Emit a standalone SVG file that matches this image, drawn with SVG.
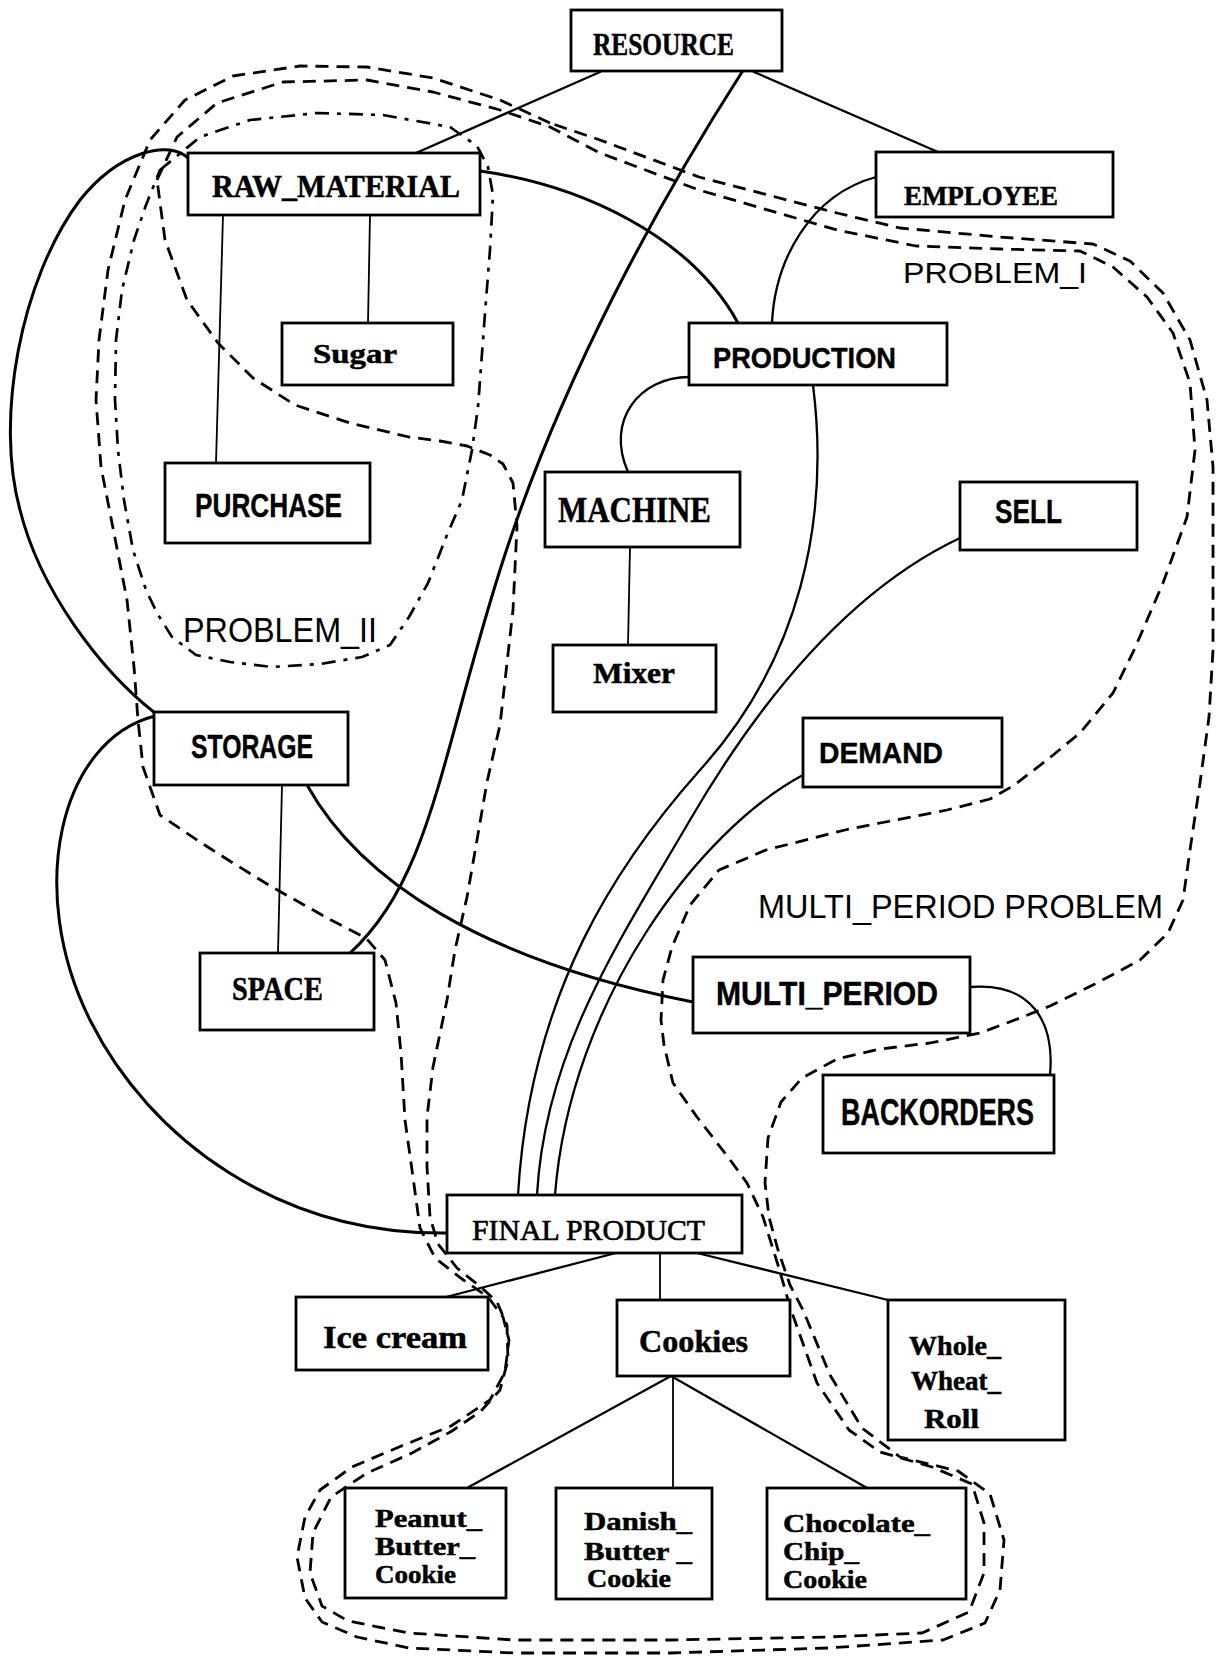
<svg xmlns="http://www.w3.org/2000/svg" width="1219" height="1661" viewBox="0 0 1219 1661">
<style>
.box{fill:#fff;stroke:#000;stroke-width:2.8}
.ln{fill:none;stroke:#000;stroke-width:2.3;stroke-linecap:round}
.thin{fill:none;stroke:#000;stroke-width:1.8}
.cv{fill:none;stroke:#000;stroke-width:3;stroke-linecap:round}
.dash{fill:none;stroke:#000;stroke-width:2.8;stroke-dasharray:13 8;stroke-linejoin:round}
.dash2{fill:none;stroke:#000;stroke-width:2.7;stroke-dasharray:14 8 4 8;stroke-linejoin:round}
.sb{font-family:"Liberation Serif","Times New Roman",serif;font-weight:bold;fill:#000;stroke:#000;stroke-width:0.5}
.sr{font-family:"Liberation Serif","Times New Roman",serif;font-weight:normal;fill:#000;stroke:#000;stroke-width:0.7}
.blk{font-family:"Liberation Sans",Arial,sans-serif;font-weight:bold;fill:#000;stroke:#000;stroke-width:0.4}
.lab{font-family:"Liberation Sans",Arial,sans-serif;font-weight:normal;fill:#000}
</style>
<rect x="0" y="0" width="1219" height="1661" fill="#fff"/>

<g id="regions">
<path id="region-outer" class="dash" d="M550,123 L500,100 L433,78 L367,67 L300,66 L233,76 L185,100 L150,140 L125,200 L108,270 L99,340 L96,400 L101,467 L114,533 L127,600 L134,667 L138,720 L143,767 L160,815 L200,842 L233,863 L272,887 L331,920 L366,938 L385,960 L396,1003 L401,1053 L405,1120 L412,1170 L420,1228 L435,1258 L462,1279 L488,1297 L503,1317 L509,1340 L505,1372 L490,1400 L451,1426 L399,1447 L352,1467 L320,1490 L305,1517 L297,1557 L305,1598 L322,1622 L357,1637 L409,1648 L514,1653 L671,1653 L828,1648 L943,1640 L985,1623 L1000,1590 L1004,1540 L990,1494 L958,1471 L900,1457 L862,1428 L830,1375 L803,1310 L790,1285 L778,1250 L769,1217 L765,1183 L768,1138 L781,1102 L802,1078 L837,1059 L880,1049 L930,1043 L980,1033 L1020,1018 L1050,1006 L1097,983 L1140,960 L1168,933 L1183,900 L1190,850 L1200,783 L1209,717 L1213,650 L1213,467 L1207,400 L1190,340 L1163,293 L1130,261 L1093,244 L1000,237 L900,228 L837,213 L699,177 L600,140 Z"/>
<path id="region-inner" class="dash" d="M157,180 L177,137 L217,103 L283,82 L367,80 L433,92 L500,110 L550,127 L600,153 L699,190 L837,230 L916,246 L1000,249 L1080,251 L1113,267 L1147,297 L1173,333 L1190,383 L1195,450 L1187,517 L1163,583 L1135,648 L1113,693 L1080,733 L1047,760 L1013,786 L990,799 L947,810 L880,823 L845,830 L766,850 L719,870 L690,905 L672,947 L663,980 L661,1020 L664,1045 L673,1083 L697,1117 L728,1157 L747,1183 L763,1217 L778,1265 L790,1307 L817,1383 L849,1430 L880,1452 L932,1467 L972,1484 L984,1523 L984,1573 L969,1612 L922,1633 L828,1637 L671,1640 L514,1640 L409,1633 L348,1621 L322,1606 L310,1573 L313,1533 L331,1497 L367,1473 L412,1453 L452,1431 L481,1411 L500,1390 L508,1360 L507,1325 L497,1302 L482,1288 L457,1268 L438,1244 L430,1217 L427,1167 L427,1117 L433,1067 L447,1000 L455,950 L467,897 L477,840 L487,782 L500,725 L513,610 L517,526 L513,483 L503,464 L490,455 L467,446 L440,441 L409,437 L350,423 L295,405 L253,378 L218,343 L187,300 L165,240 Z"/>
<path id="region-problem2" class="dash2" d="M160,170 L200,137 L250,120 L317,113 L383,115 L450,127 L477,146 L488,167 L493,195 L490,250 L486,300 L478,407 L472,450 L462,500 L447,535 L428,583 L409,617 L390,645 L362,657 L320,664 L272,667 L230,662 L196,655 L172,637 L157,613 L146,590 L133,550 L124,500 L118,450 L115,400 L116,340 L122,290 L134,240 L146,205 Z"/>
<text class="lab" x="903" y="283" font-size="30" textLength="184" lengthAdjust="spacingAndGlyphs">PROBLEM_I</text>
<text class="lab" x="183" y="642" font-size="35" textLength="194" lengthAdjust="spacingAndGlyphs">PROBLEM_II</text>
<text class="lab" x="758" y="918" font-size="34" textLength="405" lengthAdjust="spacingAndGlyphs">MULTI_PERIOD PROBLEM</text>
</g>

<g id="connectors">
<line class="ln" x1="600" y1="72" x2="416" y2="153"/>
<line class="ln" x1="754" y1="72" x2="938" y2="152"/>
<path class="cv" d="M742,72 C660,200 560,380 500,570 S430,880 350,953"/>
<path class="cv" d="M480,171 C580,185 690,235 738,323"/>
<path class="ln" d="M876,177 C810,195 775,260 772,323"/>
<line class="thin" x1="223" y1="215" x2="216" y2="463"/>
<line class="thin" x1="370" y1="215" x2="368" y2="323"/>
<path class="cv" d="M188,158 C170,140 120,150 80,200 C20,280 -5,420 20,510 C40,590 100,670 155,713"/>
<path class="ln" d="M689,377 C640,377 605,420 628,472"/>
<line class="thin" x1="630" y1="547" x2="628" y2="645"/>
<path class="ln" d="M813,385 C830,520 800,660 700,770 C620,860 530,990 518,1195"/>
<path class="ln" d="M960,538 C850,590 760,700 690,820 C620,940 545,1050 537,1195"/>
<path class="ln" d="M803,775 C700,830 570,1000 555,1195"/>
<path class="cv" d="M155,716 C60,740 25,890 90,1020 C150,1140 280,1235 447,1233"/>
<line class="thin" x1="282" y1="785" x2="278" y2="953"/>
<path class="cv" d="M307,785 C360,880 480,960 693,1002"/>
<path class="ln" d="M970,987 C1030,982 1055,1020 1050,1075"/>
<line class="ln" x1="616" y1="1253" x2="446" y2="1297"/>
<line class="thin" x1="660" y1="1253" x2="660" y2="1300"/>
<line class="ln" x1="697" y1="1253" x2="888" y2="1300"/>
<line class="ln" x1="671" y1="1376" x2="467" y2="1488"/>
<line class="thin" x1="673" y1="1376" x2="673" y2="1488"/>
<line class="ln" x1="671" y1="1376" x2="867" y2="1488"/>
</g>

<g id="resource"><rect class="box" x="571" y="10" width="211" height="61"/><text class="sb" x="593" y="55" font-size="31" textLength="141" lengthAdjust="spacingAndGlyphs">RESOURCE</text></g>
<g id="raw_material"><rect class="box" x="188" y="153" width="292" height="62"/><text class="sb" x="212" y="197" font-size="31" textLength="248" lengthAdjust="spacingAndGlyphs">RAW_MATERIAL</text></g>
<g id="employee"><rect class="box" x="876" y="152" width="237" height="65"/><text class="sb" x="904" y="205" font-size="28" textLength="154" lengthAdjust="spacingAndGlyphs">EMPLOYEE</text></g>
<g id="sugar"><rect class="box" x="282" y="323" width="171" height="62"/><text class="sb" x="313" y="363" font-size="28" textLength="84" lengthAdjust="spacingAndGlyphs">Sugar</text></g>
<g id="production"><rect class="box" x="689" y="323" width="258" height="62"/><text class="blk" x="713" y="368" font-size="30" textLength="183" lengthAdjust="spacingAndGlyphs">PRODUCTION</text></g>
<g id="purchase"><rect class="box" x="165" y="463" width="205" height="80"/><text class="blk" x="195" y="517" font-size="34" textLength="147" lengthAdjust="spacingAndGlyphs">PURCHASE</text></g>
<g id="machine"><rect class="box" x="545" y="472" width="195" height="75"/><text class="sb" x="558" y="522" font-size="35" textLength="153" lengthAdjust="spacingAndGlyphs">MACHINE</text></g>
<g id="sell"><rect class="box" x="960" y="482" width="177" height="68"/><text class="blk" x="995" y="523" font-size="33" textLength="67" lengthAdjust="spacingAndGlyphs">SELL</text></g>
<g id="mixer"><rect class="box" x="553" y="645" width="163" height="67"/><text class="sb" x="593" y="683" font-size="30" textLength="82" lengthAdjust="spacingAndGlyphs">Mixer</text></g>
<g id="storage"><rect class="box" x="154" y="712" width="194" height="73"/><text class="blk" x="191" y="758" font-size="33" textLength="122" lengthAdjust="spacingAndGlyphs">STORAGE</text></g>
<g id="demand"><rect class="box" x="803" y="718" width="199" height="69"/><text class="blk" x="819" y="763" font-size="29" textLength="124" lengthAdjust="spacingAndGlyphs">DEMAND</text></g>
<g id="space"><rect class="box" x="200" y="953" width="174" height="77"/><text class="sb" x="232" y="1000" font-size="33" textLength="91" lengthAdjust="spacingAndGlyphs">SPACE</text></g>
<g id="multi_period"><rect class="box" x="693" y="957" width="277" height="76"/><text class="blk" x="716" y="1005" font-size="33" textLength="222" lengthAdjust="spacingAndGlyphs">MULTI_PERIOD</text></g>
<g id="backorders"><rect class="box" x="823" y="1075" width="231" height="78"/><text class="blk" x="841" y="1125" font-size="36" textLength="193" lengthAdjust="spacingAndGlyphs">BACKORDERS</text></g>
<g id="final_product"><rect class="box" x="447" y="1195" width="295" height="58"/><text class="sr" x="472" y="1240" font-size="30" textLength="233" lengthAdjust="spacingAndGlyphs">FINAL PRODUCT</text></g>
<g id="ice_cream"><rect class="box" x="296" y="1297" width="192" height="73"/><text class="sb" x="323" y="1348" font-size="31" textLength="144" lengthAdjust="spacingAndGlyphs">Ice cream</text></g>
<g id="cookies"><rect class="box" x="617" y="1300" width="173" height="76"/><text class="sb" x="639" y="1352" font-size="31" textLength="109" lengthAdjust="spacingAndGlyphs">Cookies</text></g>
<g id="whole_wheat_roll"><rect class="box" x="888" y="1300" width="177" height="140"/>
<text class="sb" x="909" y="1355" font-size="28" textLength="92" lengthAdjust="spacingAndGlyphs">Whole_</text>
<text class="sb" x="911" y="1390" font-size="28" textLength="90" lengthAdjust="spacingAndGlyphs">Wheat_</text>
<text class="sb" x="924" y="1428" font-size="28" textLength="55" lengthAdjust="spacingAndGlyphs">Roll</text></g>
<g id="peanut_butter_cookie"><rect class="box" x="345" y="1488" width="161" height="110"/>
<text class="sb" x="375" y="1527" font-size="26" textLength="107" lengthAdjust="spacingAndGlyphs">Peanut_</text>
<text class="sb" x="375" y="1555" font-size="26" textLength="100" lengthAdjust="spacingAndGlyphs">Butter_</text>
<text class="sb" x="375" y="1583" font-size="26" textLength="81" lengthAdjust="spacingAndGlyphs">Cookie</text></g>
<g id="danish_butter_cookie"><rect class="box" x="556" y="1488" width="156" height="111"/>
<text class="sb" x="584" y="1530" font-size="26" textLength="108" lengthAdjust="spacingAndGlyphs">Danish_</text>
<text class="sb" x="584" y="1560" font-size="26" textLength="108" lengthAdjust="spacingAndGlyphs">Butter _</text>
<text class="sb" x="587" y="1587" font-size="26" textLength="84" lengthAdjust="spacingAndGlyphs">Cookie</text></g>
<g id="chocolate_chip_cookie"><rect class="box" x="767" y="1488" width="199" height="111"/>
<text class="sb" x="783" y="1532" font-size="26" textLength="147" lengthAdjust="spacingAndGlyphs">Chocolate_</text>
<text class="sb" x="783" y="1560" font-size="26" textLength="76" lengthAdjust="spacingAndGlyphs">Chip_</text>
<text class="sb" x="783" y="1588" font-size="26" textLength="84" lengthAdjust="spacingAndGlyphs">Cookie</text></g>
</svg>
